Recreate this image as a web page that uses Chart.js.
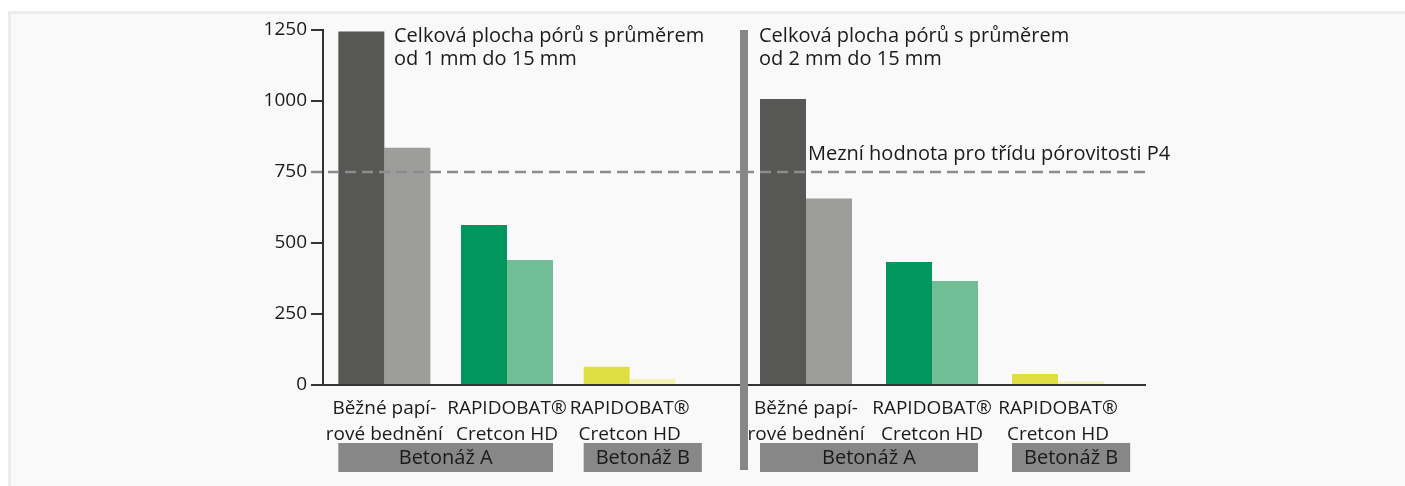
<!DOCTYPE html>
<html lang="cs">
<head>
<meta charset="utf-8">
<title>Celková plocha pórů</title>
<script src="https://cdn.jsdelivr.net/npm/chart.js@4.4.1/dist/chart.umd.min.js"></script>
<style>
  html, body { margin: 0; padding: 0; background: #ffffff; overflow: hidden; }
  body { width: 1405px; height: 486px; position: relative; }
  .panel {
    position: absolute; left: 8px; top: 11px; width: 1410px; height: 490px;
    background: #f9f9f9;
    border-left: 3px solid #ececec; border-top: 3px solid #ececec;
  }
  .box { position: absolute; top: 0; height: 486px; }
  #leftBox { left: 250px; width: 493px; }
  #rightBox { left: 743px; width: 480px; }
  .separator {
    position: absolute; left: 740px; top: 30px; width: 8px; height: 440px;
    background: #878787;
  }
</style>
</head>
<body>
<div class="panel"></div>
<div class="box" id="leftBox"><canvas id="leftChart"></canvas></div>
<div class="box" id="rightBox"><canvas id="rightChart"></canvas></div>
<div class="separator"></div>

<script>
// ---- data ----
const categoryLabels = [
  ['Běžné papí-', 'rové bednění'],
  ['RAPIDOBAT®', 'Cretcon HD'],
  ['RAPIDOBAT®', 'Cretcon HD'],
];

// pore area, 1 mm – 15 mm
const range1to15First  = [1245, 563, 64];
const range1to15Second = [835, 440, 21];
// pore area, 2 mm – 15 mm
const range2to15First  = [1007, 433, 39];
const range2to15Second = [657, 366, 12];

const panelTitles = [
  ['Celková plocha pórů s průměrem', 'od 1 mm do 15 mm'],
  ['Celková plocha pórů s průměrem', 'od 2 mm do 15 mm'],
];

const groupLabels = ['Betonáž A', 'Betonáž B'];
const groupStart  = [0, 2];
const groupEnd    = [1, 2];

const yMax = 1250;
const yStep = 250;
const limitValue = 750;
const limitLabel = 'Mezní hodnota pro třídu pórovitosti P4';

// ---- style ----
const FONT = "'Open Sans', 'Noto Sans', sans-serif";
const TEXT = '#1a1a1a';
const AXIS = '#333333';
const FIRST_COLORS  = ['#575756', '#00965e', '#dfdf44'];
const SECOND_COLORS = ['#9d9d9c', '#71be96', '#f4f1b4'];

// axis line, limit line, titles, batch boxes
const decorations = {
  id: 'decorations',
  afterDatasetsDraw(chart, args, opts) {
    const { ctx, chartArea } = chart;
    const x = chart.scales.x;
    const y = chart.scales.y;
    const zeroY = y.getPixelForValue(0);
    const from = opts.left ? chartArea.left - 12 : 0;
    const to = opts.left ? chart.width : chartArea.right + 25;

    ctx.save();

    // limit line
    const limY = y.getPixelForValue(limitValue);
    ctx.strokeStyle = '#8c8c8c';
    ctx.lineWidth = 2.5;
    ctx.setLineDash([11, 6]);
    ctx.beginPath();
    ctx.moveTo(from, limY);
    ctx.lineTo(to, limY);
    ctx.stroke();
    ctx.setLineDash([]);

    // x axis line
    ctx.strokeStyle = AXIS;
    ctx.lineWidth = 2;
    ctx.beginPath();
    ctx.moveTo(from, zeroY);
    ctx.lineTo(to, zeroY);
    ctx.stroke();

    // panel title
    ctx.fillStyle = TEXT;
    ctx.font = `20px ${FONT}`;
    ctx.textAlign = 'left';
    ctx.textBaseline = 'alphabetic';
    const topY = y.getPixelForValue(yMax);
    opts.title.forEach((line, i) => {
      ctx.fillText(line, chartArea.left + opts.titleX, topY + 12 + i * 23);
    });

    if (opts.showLimitLabel) {
      ctx.fillText(limitLabel, chartArea.left + 65, limY - 12);
    }

    // batch boxes
    const step = x.getPixelForValue(1) - x.getPixelForValue(0);
    const pairHalf = step * chart.options.datasets.bar.categoryPercentage / 2;
    ctx.font = `20px ${FONT}`;
    ctx.textAlign = 'center';
    ctx.textBaseline = 'middle';
    groupLabels.forEach((label, i) => {
      const left = x.getPixelForValue(groupStart[i]) - pairHalf;
      const right = Math.max(
        x.getPixelForValue(groupEnd[i]) + pairHalf,
        left + ctx.measureText(label).width + 24
      );
      const top = zeroY + 58;
      ctx.fillStyle = '#878787';
      ctx.fillRect(left, top, right - left, 29);
      ctx.fillStyle = TEXT;
      ctx.fillText(label, (left + right) / 2, top + 15);
    });

    ctx.restore();
  },
};

function makeChart(canvasId, first, second, isLeft) {
  return new Chart(document.getElementById(canvasId), {
    type: 'bar',
    data: {
      labels: categoryLabels,
      datasets: [
        { label: 'první', data: first, backgroundColor: FIRST_COLORS },
        { label: 'druhá', data: second, backgroundColor: SECOND_COLORS },
      ],
    },
    options: {
      responsive: true,
      maintainAspectRatio: false,
      animation: false,
      layout: { padding: { top: 30, right: isLeft ? 52 : 102, bottom: 0, left: 0 } },
      datasets: {
        bar: {
          categoryPercentage: isLeft ? 0.75 : 0.73,
          barPercentage: 1.0,
          borderWidth: 0,
        },
      },
      scales: {
        x: {
          offset: true,
          grid: { display: false },
          border: { display: false },
          afterFit: (scale) => { scale.height = 101; },
          ticks: {
            color: TEXT,
            padding: 3,
            maxRotation: 0,
            autoSkip: false,
            font: { family: FONT, size: 19, lineHeight: 1.35 },
          },
        },
        y: {
          display: isLeft,
          min: 0,
          max: yMax,
          afterFit: (scale) => { if (isLeft) scale.width = 73; },
          grid: {
            drawOnChartArea: false,
            drawTicks: true,
            tickLength: 12,
            lineWidth: 2,
            color: AXIS,
          },
          border: { display: true, color: AXIS, width: 2 },
          ticks: {
            stepSize: yStep,
            color: TEXT,
            padding: 4,
            font: { family: FONT, size: 19 },
            callback: (v) => String(v),
          },
        },
      },
      plugins: {
        legend: { display: false },
        tooltip: { enabled: false },
        decorations: {
          left: isLeft,
          title: isLeft ? panelTitles[0] : panelTitles[1],
          titleX: isLeft ? 71 : 16,
          showLimitLabel: !isLeft,
        },
      },
    },
    plugins: [decorations],
  });
}

makeChart('leftChart', range1to15First, range1to15Second, true);
makeChart('rightChart', range2to15First, range2to15Second, false);
</script>
</body>
</html>
